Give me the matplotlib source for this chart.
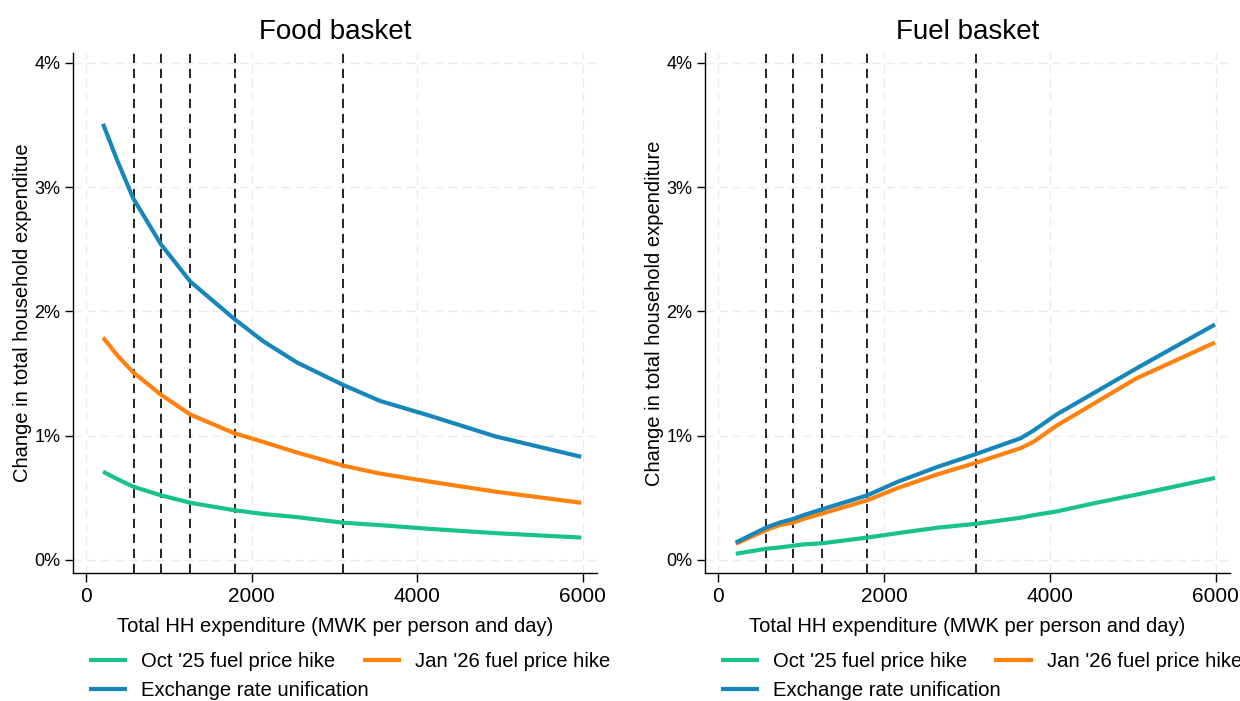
import numpy as np
import matplotlib
matplotlib.use("Agg")
import matplotlib.pyplot as plt
from matplotlib.ticker import FuncFormatter

plt.rcParams['font.family'] = ['Liberation Sans', 'DejaVu Sans']

# data (values in % of total household expenditure)
x_food = [205, 380, 570, 905, 1260, 1790, 2140, 2545, 3100, 3550, 4155, 4940, 5980]
food_oct = [0.71, 0.65, 0.59, 0.52, 0.46, 0.40, 0.37, 0.345, 0.30, 0.28, 0.25, 0.216, 0.18]
food_jan = [1.79, 1.645, 1.51, 1.33, 1.17, 1.02, 0.95, 0.865, 0.76, 0.695, 0.63, 0.55, 0.46]
food_fx = [3.51, 3.21, 2.91, 2.54, 2.24, 1.94, 1.76, 1.59, 1.41, 1.28, 1.16, 0.995, 0.83]

x_fuel = [215, 580, 740, 905, 1030, 1265, 1800, 2170, 2650, 3100, 3650, 3800, 4080, 4560, 5040, 5990]
fuel_oct = [0.05, 0.09, 0.10, 0.115, 0.125, 0.135, 0.18, 0.216, 0.26, 0.29, 0.34, 0.36, 0.39, 0.46, 0.525, 0.66]
fuel_jan = [0.13, 0.24, 0.28, 0.30, 0.33, 0.375, 0.48, 0.58, 0.69, 0.78, 0.90, 0.95, 1.08, 1.27, 1.46, 1.75]
fuel_fx = [0.14, 0.26, 0.30, 0.33, 0.36, 0.41, 0.52, 0.63, 0.75, 0.85, 0.98, 1.04, 1.17, 1.355, 1.54, 1.895]

# thresholds (dashed vertical lines)
cutoffs = [575, 910, 1255, 1795, 3105]

series_labels = ["Oct '25 fuel price hike", "Jan '26 fuel price hike", "Exchange rate unification"]
series_colors = ['#17c485', '#ff820f', '#1786b9']

panels = [
    ("Food basket", "Change in total household expenditue", x_food, [food_oct, food_jan, food_fx]),
    ("Fuel basket", "Change in total household expenditure", x_fuel, [fuel_oct, fuel_jan, fuel_fx]),
]

fig = plt.figure(figsize=(12.4, 7.01), dpi=100)
ax_pos = [[0.0589, 0.1826, 0.4226, 0.7418], [0.5685, 0.1826, 0.4234, 0.7418]]

for pos, (title, ylab, xs, ys) in zip(ax_pos, panels):
    ax = fig.add_axes(pos)
    for c in cutoffs:
        ax.axvline(c, color='black', lw=1.2, dashes=(5.5, 3.5), zorder=2)
    lines = []
    for y, lab, col in zip(ys, series_labels, series_colors):
        ln, = ax.plot(xs, y, color=col, lw=3.0, label=lab, zorder=3, solid_capstyle='butt')
        lines.append(ln)

    ax.set_xlim(-157, 6171)
    ax.set_ylim(-0.105, 4.08)
    ax.set_xticks([0, 2000, 4000, 6000])
    ax.set_yticks([0, 1, 2, 3, 4])
    ax.yaxis.set_major_formatter(FuncFormatter(lambda v, p: f"{v:.0f}%"))
    ax.grid(True, color='#ebebeb', lw=1.0, dashes=(6, 4))
    ax.set_axisbelow(True)
    for s in ['top', 'right']:
        ax.spines[s].set_visible(False)
    for s in ['left', 'bottom']:
        ax.spines[s].set_linewidth(1.0)
    ax.tick_params(axis='x', labelsize=15, length=6.3, width=1.0, pad=4)
    ax.tick_params(axis='y', labelsize=13, length=5.5, width=1.0, pad=3.5)
    ax.set_title(title, fontsize=20, pad=10)
    ax.set_xlabel("Total HH expenditure (MWK per person and day)", fontsize=14.5, labelpad=8)
    ax.set_ylabel(ylab, fontsize=14.5, labelpad=2)
    # row-wise legend order: Oct, Jan / Exchange rate
    order = [0, 2, 1]
    ax.legend([lines[i] for i in order], [series_labels[i] for i in order],
              loc='upper left', bbox_to_anchor=(0.03, -0.152), ncol=2, frameon=False,
              fontsize=14.6, handlelength=1.9, handletextpad=0.67, columnspacing=-0.3,
              labelspacing=0.48, borderaxespad=0, borderpad=0)

fig.savefig("out.png", dpi=100)
